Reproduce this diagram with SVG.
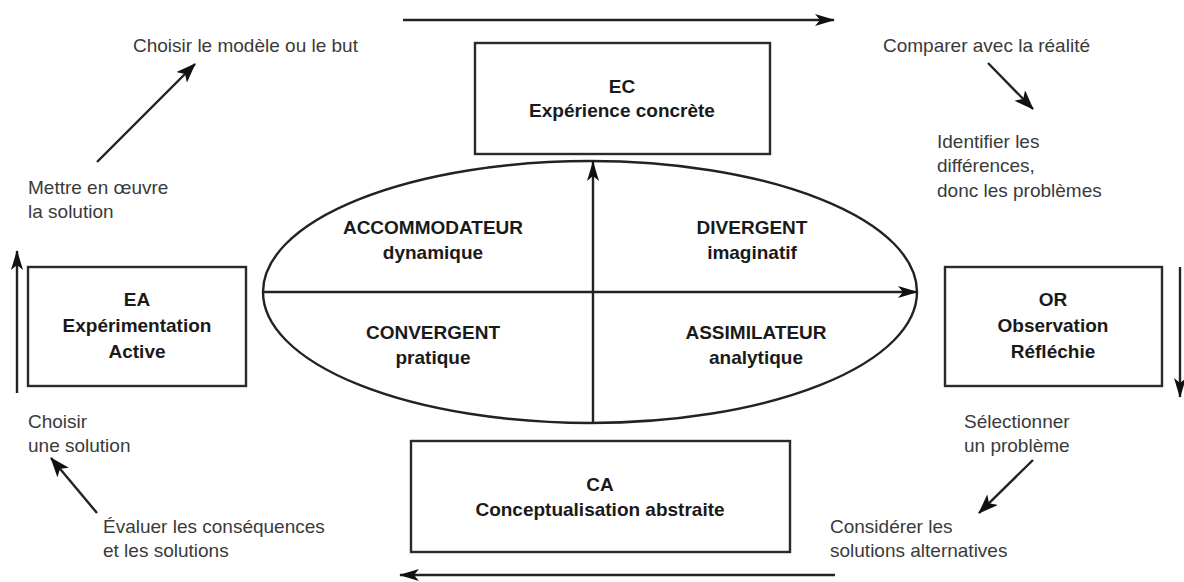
<svg xmlns="http://www.w3.org/2000/svg" width="1184" height="582" viewBox="0 0 1184 582">
  <style>
    .box { fill: none; stroke: #2a2a2a; stroke-width: 2.4; }
    .line { fill: none; stroke: #222; stroke-width: 2.4; }
    .title { font-family: "Liberation Sans", Arial, sans-serif; font-size: 19px; font-weight: bold; fill: #1a1a1a; text-anchor: middle; }
    .note { font-family: "Liberation Sans", Arial, sans-serif; font-size: 19px; fill: #3a3a3a; }
  </style>
  <defs>
    <marker id="head" viewBox="0 0 20 12" refX="19" refY="6" markerWidth="20" markerHeight="12" markerUnits="userSpaceOnUse" orient="auto">
      <path d="M0,0 L20,6 L0,12 L5,6 Z" fill="#111"/>
    </marker>
    <marker id="headSmall" viewBox="0 0 20 15" refX="19" refY="7.5" markerWidth="20" markerHeight="15" markerUnits="userSpaceOnUse" orient="auto">
      <path d="M0,0 L20,7.5 L0,15 L5,7.5 Z" fill="#111"/>
    </marker>
  </defs>

  <rect width="1184" height="582" fill="#ffffff"/>

  <!-- cycle arrows around the four stages -->
  <g id="connectors">
    <line class="line" x1="403" y1="20" x2="834" y2="20" marker-end="url(#head)"/>
    <line class="line" x1="1180" y1="267" x2="1180" y2="397" marker-end="url(#head)"/>
    <line class="line" x1="835" y1="575" x2="400" y2="575" marker-end="url(#head)"/>
    <line class="line" x1="17" y1="393" x2="17" y2="251" marker-end="url(#head)"/>
    <!-- steps between the annotations -->
    <line class="line" x1="97" y1="162" x2="195" y2="64" marker-end="url(#headSmall)"/>
    <line class="line" x1="988" y1="63" x2="1033" y2="109" marker-end="url(#headSmall)"/>
    <line class="line" x1="1033" y1="460" x2="979" y2="513" marker-end="url(#headSmall)"/>
    <line class="line" x1="97" y1="513" x2="51" y2="458" marker-end="url(#headSmall)"/>
  </g>

  <!-- learning styles ellipse with its two axes -->
  <g id="styles">
    <ellipse class="line" cx="590" cy="292" rx="327" ry="131"/>
    <line class="line" x1="263" y1="292" x2="917" y2="292" marker-end="url(#head)"/>
    <line class="line" x1="593" y1="423" x2="593" y2="162" marker-end="url(#head)"/>
    <text class="title" x="433" y="234">ACCOMMODATEUR</text>
    <text class="title" x="433" y="259">dynamique</text>
    <text class="title" x="752" y="234">DIVERGENT</text>
    <text class="title" x="752" y="259">imaginatif</text>
    <text class="title" x="433" y="339">CONVERGENT</text>
    <text class="title" x="433" y="364">pratique</text>
    <text class="title" x="756" y="339">ASSIMILATEUR</text>
    <text class="title" x="756" y="364">analytique</text>
  </g>

  <g id="node-ec">
    <rect class="box" x="475" y="43" width="295" height="111"/>
    <text class="title" x="622" y="93">EC</text>
    <text class="title" x="622" y="117">Expérience concrète</text>
  </g>

  <g id="node-or">
    <rect class="box" x="945" y="267" width="217" height="119"/>
    <text class="title" x="1053" y="306">OR</text>
    <text class="title" x="1053" y="332">Observation</text>
    <text class="title" x="1053" y="358">Réfléchie</text>
  </g>

  <g id="node-ca">
    <rect class="box" x="411" y="441" width="379" height="111"/>
    <text class="title" x="600" y="491">CA</text>
    <text class="title" x="600" y="516">Conceptualisation abstraite</text>
  </g>

  <g id="node-ea">
    <rect class="box" x="28" y="267" width="218" height="119"/>
    <text class="title" x="137" y="306">EA</text>
    <text class="title" x="137" y="332">Expérimentation</text>
    <text class="title" x="137" y="358">Active</text>
  </g>

  <!-- step annotations -->
  <g id="notes">
    <text class="note" x="133" y="52">Choisir le modèle ou le but</text>
    <text class="note" x="883" y="52">Comparer avec la réalité</text>
    <text class="note" x="937" y="148">Identifier les</text>
    <text class="note" x="937" y="172">différences,</text>
    <text class="note" x="937" y="197">donc les problèmes</text>
    <text class="note" x="28" y="194">Mettre en œuvre</text>
    <text class="note" x="28" y="218">la solution</text>
    <text class="note" x="964" y="428">Sélectionner</text>
    <text class="note" x="964" y="452">un problème</text>
    <text class="note" x="830" y="533">Considérer les</text>
    <text class="note" x="830" y="557">solutions alternatives</text>
    <text class="note" x="28" y="428">Choisir</text>
    <text class="note" x="28" y="452">une solution</text>
    <text class="note" x="103" y="533">Évaluer les conséquences</text>
    <text class="note" x="103" y="557">et les solutions</text>
  </g>
</svg>
